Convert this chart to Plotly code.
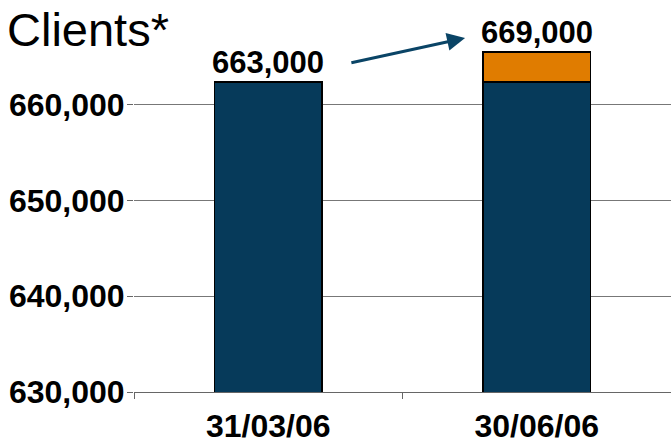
import plotly.graph_objects as go

categories = ["31/03/06", "30/06/06"]
base_clients = [662400, 662400]
new_clients = [0, 3100]
value_labels = ["663,000", "669,000"]
tick_vals = [630000, 640000, 650000, 660000]
tick_text = ["630,000", "640,000", "650,000", "660,000"]

navy = "#063A5A"
orange = "#E07C00"
FONT = "Liberation Sans, Arial"

fig = go.Figure()
fig.add_trace(go.Bar(x=categories, y=base_clients, marker=dict(color=navy, line=dict(color="black", width=1.5)), width=0.4))
fig.add_trace(go.Bar(x=categories, y=new_clients, marker=dict(color=orange, line=dict(color="black", width=1.5)), width=0.4))

totals = [b + n for b, n in zip(base_clients, new_clients)]
for c, t, lab in zip(categories, totals, value_labels):
    fig.add_annotation(x=c, y=t, text=lab, showarrow=False, yanchor="bottom", yshift=0,
                       font=dict(family=FONT, size=31, color="black", weight="bold"))

fig.add_annotation(x=0.733, y=666970, ax=0.304, ay=664360, xref="x", yref="y", axref="x", ayref="y",
                   showarrow=True, arrowhead=2, arrowsize=1.2, arrowwidth=3, arrowcolor="#0A4466", text="")

fig.add_annotation(x=0, y=1, xref="paper", yref="paper", xanchor="left", yanchor="top",
                   text="Clients*", showarrow=False, xshift=-128, yshift=7, borderpad=0,
                   font=dict(family=FONT, size=47, color="black"))

fig.update_layout(
    barmode="stack", showlegend=False, width=671, height=443,
    margin=dict(l=134, r=0, t=9, b=51),
    paper_bgcolor="white", plot_bgcolor="white",
)
fig.update_xaxes(range=[-0.5, 1.5], ticks="outside", tickson="boundaries", ticklen=6, tickcolor="#666",
                 showline=True, linecolor="#666", linewidth=1, showgrid=False, automargin=False,
                 tickvals=categories, ticktext=categories,
                 tickfont=dict(family=FONT, size=32, color="black", weight="bold"),
                 ticklabelstandoff=6)
fig.update_yaxes(range=[630000, 670000], tickvals=tick_vals, ticktext=tick_text,
                 ticks="outside", ticklen=6, tickcolor="#666", showgrid=True, gridcolor="#777", gridwidth=1,
                 showline=False, zeroline=False, automargin=False, ticklabelstandoff=-4,
                 tickfont=dict(family=FONT, size=32, color="black", weight="bold"))

fig.write_html("out.html", config={"displayModeBar": False},
               post_script="document.body.style.margin='0';")
